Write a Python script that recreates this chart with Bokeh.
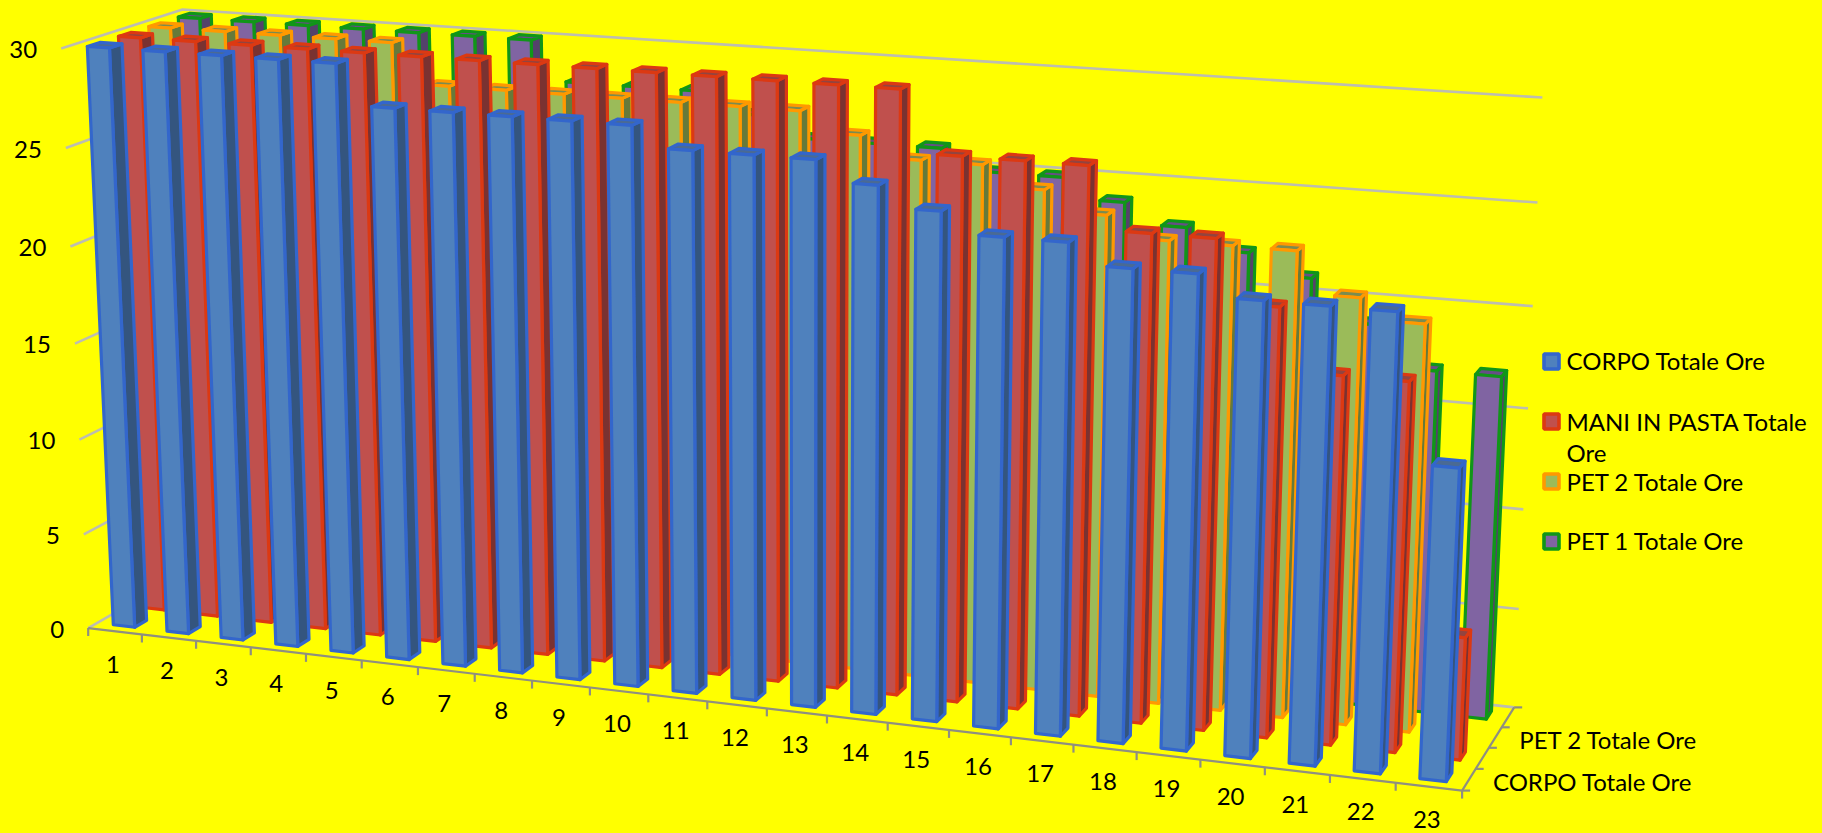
import numpy as np
from bokeh.core.properties import value
from bokeh.embed import file_html
from bokeh.models import ColumnDataSource, Range1d
from bokeh.plotting import figure
from bokeh.resources import INLINE

categories = [str(i) for i in range(1, 24)]
series_names = ["CORPO Totale Ore", "MANI IN PASTA Totale Ore", "PET 2 Totale Ore", "PET 1 Totale Ore"]
value_ticks = [0, 5, 10, 15, 20, 25, 30]

corpo = [30, 30, 30, 30, 30, 28, 28, 28, 28, 28, 27, 27, 27, 26, 25, 24, 24, 23, 23, 22, 22, 22, 15]
mani = [30, 30, 30, 30, 30, 30, 30, 30, 30, 30, 30, 30, 30, 30, 27, 27, 27, 24, 24, 21, 18, 18, 6]
pet2 = [30, 30, 30, 30, 30, 28, 28, 28, 28, 28, 28, 28, 27, 26, 26, 25, 24, 23, 23, 23, 21, 20, None]
pet1 = [30, 30, 30, 30, 30, 30, 30, 28, 28, 28, 27, 26, 26, 26, 25, 25, 24, 23, 22, 21, 19, 17, 17]
series_values = [corpo, mani, pet2, pet1]

front_fill = ["#4F81BD", "#C0504D", "#9BBB59", "#8064A2"]
side_fill = ["#34557F", "#7A3231", "#667A3A", "#54426B"]
top_fill = ["#4A6A94", "#93443F", "#7A8C50", "#664F85"]
edge = ["#3366CC", "#DC3912", "#FF9900", "#109618"]

# Camera calibration: (category position, depth 0..1, value) -> page pixel
calib_world = [(0, 0, 0), (1, 0, 0), (8, 0, 0), (22, 0, 0), (23, 0, 0), (23, .25, 0), (23, .5, 0), (23, .75, 0), (23, 1, 0),
               (23, 1, 5), (23, 1, 10), (23, 1, 15), (23, 1, 20), (23, 1, 25), (23, 1, 30),
               (0, 0, 30), (0, 0, 25), (0, 0, 15), (0, 1, 30)]
calib_page = [(88, 627), (142, 635), (531, 682), (1395, 783), (1462, 789), (1475, 768), (1488, 747), (1502, 727), (1513, 707),
              (1518, 608), (1523, 509), (1528, 408), (1532, 306), (1537, 202), (1542, 97),
              (61, 49), (65, 148), (74, 340), (182, 9)]


def solve_camera(world, page):
    A, b = [], []
    for (X, Y, Z), (u, v) in zip(world, page):
        A.append([X, Y, Z, 1, 0, 0, 0, 0, -u * X, -u * Y, -u * Z]); b.append(u)
        A.append([0, 0, 0, 0, X, Y, Z, 1, -v * X, -v * Y, -v * Z]); b.append(v)
    sol = np.linalg.lstsq(np.array(A, float), np.array(b, float), rcond=None)[0]
    return np.append(sol, 1.0).reshape(3, 4)


CAM = solve_camera(calib_world, calib_page)


def proj(x, d, z):
    h = CAM @ np.array([x, d, z, 1.0])
    return h[0] / h[2], h[1] / h[2]


def poly(points):
    pts = [proj(*q) for q in points]
    return [q[0] for q in pts], [q[1] for q in pts]


W, H = 1822, 833
p = figure(width=W, height=H, x_range=Range1d(0, W), y_range=Range1d(H, 0), output_backend="svg",
           toolbar_location=None, background_fill_color="#FFFF00", border_fill_color="#FFFF00",
           min_border=0, outline_line_color=None)
p.axis.visible = False
p.grid.visible = False

# walls
gx, gy = [], []
for z in value_ticks:
    a, b = poly([(0, 0, z), (0, 1, z), (23, 1, z)])
    gx.append(a); gy.append(b)
p.multi_line(gx, gy, line_color="#BDBDB0", line_width=2.6)

# axis lines and ticks
n = len(categories)
ax, ay = [], []
a, b = poly([(0, 0, 0), (n, 0, 0), (n, 1, 0)])
ax.append(a); ay.append(b)
for i in range(n + 1):
    u, v = proj(i, 0, 0)
    ax.append([u, u]); ay.append([v, v + 8])
for j in range(5):
    u, v = proj(n, j / 4, 0)
    ax.append([u, u + 8]); ay.append([v, v])
p.multi_line(ax, ay, line_color="#8F8F80", line_width=2.2)

# bars: back row first, left to right within a row
xs, ys, fills, lines = [], [], [], []
for s in range(3, -1, -1):
    vals = series_values[s]
    d0, d1 = (s + 0.3) / 4, (s + 0.7) / 4
    for k, val in enumerate(vals):
        if val is None:
            continue
        x0, x1 = k + 0.3, k + 0.7
        faces = [
            ([(x1, d0, 0), (x1, d1, 0), (x1, d1, val), (x1, d0, val)], side_fill[s]),
            ([(x0, d0, val), (x1, d0, val), (x1, d1, val), (x0, d1, val)], top_fill[s]),
            ([(x0, d0, 0), (x1, d0, 0), (x1, d0, val), (x0, d0, val)], front_fill[s]),
        ]
        for pts, col in faces:
            a, b = poly(pts)
            xs.append(a); ys.append(b); fills.append(col); lines.append(edge[s])
p.patches("xs", "ys", source=ColumnDataSource(dict(xs=xs, ys=ys, f=fills, l=lines)), fill_color="f", line_color="l",
          line_width=3.2, line_join="round")

FONT = value("Lato")
TS = "24px"

# value axis labels
u_v = [proj(0, 0, z) for z in value_ticks]
p.text([q[0] - 24 for q in u_v], [q[1] + 1 for q in u_v], text=[str(z) for z in value_ticks], text_font=FONT,
       text_font_size=TS, text_align="right", text_baseline="middle", text_color="#000000")

# category labels
u_c = [proj(i + 0.5, 0, 0) for i in range(n)]
p.text([q[0] - 2 for q in u_c], [q[1] + 33 for q in u_c], text=categories, text_font=FONT, text_font_size=TS,
       text_align="center", text_baseline="middle", text_color="#000000")

# depth labels
u_d = [proj(n, (j + 0.5) / 4, 0) for j in (0, 2)]
p.text([q[0] + 24 for q in u_d], [q[1] + 2 for q in u_d], text=[series_names[0], series_names[2]], text_font=FONT,
       text_font_size=TS, text_align="left", text_baseline="middle", text_color="#000000")

# legend
leg_x, leg_y, leg_h = 1551, [361, 421, 481, 541], 15
p.rect([leg_x] * 4, leg_y, width=leg_h, height=leg_h, fill_color=front_fill, line_color=edge, line_width=3.6)
leg_text = ["CORPO Totale Ore", "MANI IN PASTA Totale", "Ore", "PET 2 Totale Ore", "PET 1 Totale Ore"]
leg_ty = [360, 421, 452, 481, 540]
p.text([1566] * 5, leg_ty, text=leg_text, text_font=FONT, text_font_size=TS, text_align="left",
       text_baseline="middle", text_color="#000000")

STYLE = "<style>html,body{margin:0;background:#FFFF00;overflow:hidden}</style></head>"
open("out.html", "w").write(file_html(p, INLINE).replace("</head>", STYLE, 1))
